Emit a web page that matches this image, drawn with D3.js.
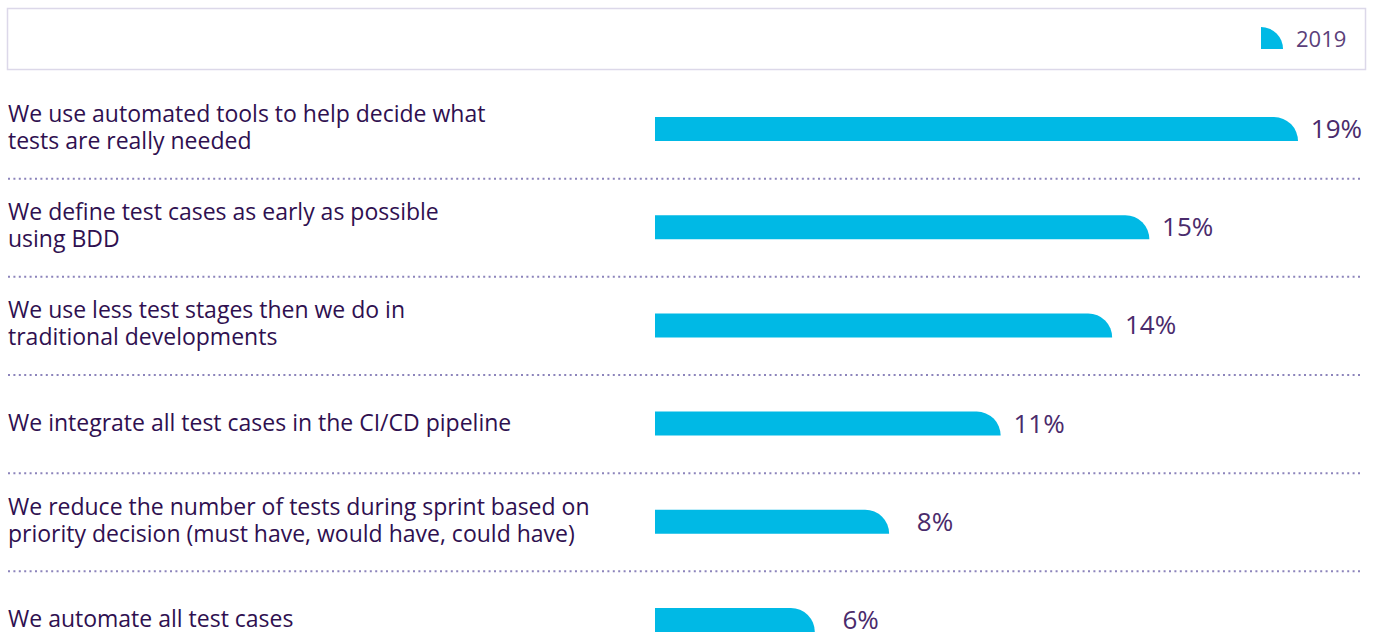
<!DOCTYPE html>
<html>
<head>
<meta charset="utf-8">
<script src="https://cdn.jsdelivr.net/npm/d3@7"></script>
<style>
  html, body { margin: 0; padding: 0; background: #ffffff; }
  svg { display: block; }
</style>
</head>
<body>
<svg id="chart" width="1375" height="635"></svg>
<script>
const categories = [
  "We use automated tools to help decide what|tests are really needed",
  "We define test cases as early as possible|using BDD",
  "We use less test stages then we do in|traditional developments",
  "We integrate all test cases in the CI/CD pipeline",
  "We reduce the number of tests during sprint based on|priority decision (must have, would have, could have)",
  "We automate all test cases"
];
const values2019 = [19, 15, 14, 11, 8, 6];
const seriesNames = ["2019"];

const W = 1375, H = 635;
const svg = d3.select("#chart");
const FONT = "'Open Sans', 'Noto Sans', sans-serif";
const barColor = "#00b9e5";
const labelColor = "#2f1050";
const valueColor = "#4a2b6c";

// legend box
svg.append("rect")
  .attr("x", 7.5).attr("y", 8.5).attr("width", 1358).attr("height", 61)
  .attr("fill", "#fff").attr("stroke", "#dcd8e9").attr("stroke-width", 1.5);

function roundEnd(x0, x1, y0, h, r) {
  const rr = Math.min(r, x1 - x0);
  return `M${x0},${y0}H${x1 - rr}A${rr},${h} 0 0 1 ${x1},${y0 + h}H${x0}Z`;
}

const lg = svg.append("g").attr("class", "legend");
lg.append("path").attr("d", roundEnd(1261, 1283, 27, 22, 22)).attr("fill", barColor);
lg.append("text").attr("x", 1296).attr("y", 47)
  .attr("font-family", FONT).attr("font-size", 22).attr("fill", "#5b3f7a")
  .text(seriesNames[0]);

const y = d3.scaleBand().domain(categories).range([80, 669]).paddingInner(0).paddingOuter(0);
const x = d3.scaleLinear().domain([1.7, 19]).range([655, 1298]);
const barH = 24;

// dotted separators
const seps = categories.slice(0, -1);
svg.append("g").selectAll("line").data(seps).join("line")
  .attr("x1", 8).attr("x2", 1363)
  .attr("y1", d => y(d) + y.bandwidth() + 0.5)
  .attr("y2", d => y(d) + y.bandwidth() + 0.5)
  .attr("stroke", "#8c84bb").attr("stroke-width", 2)
  .attr("stroke-dasharray", "2,3.4");

const rows = svg.append("g").selectAll("g").data(categories).join("g");

rows.append("path")
  .attr("d", (d, i) => {
    const cy = y(d) + y.bandwidth() / 2;
    return roundEnd(x.range()[0], x(values2019[i]), cy - barH / 2, barH, barH);
  })
  .attr("fill", barColor);

rows.append("text")
  .attr("text-anchor", "end")
  .attr("x", (d, i) => x(values2019[i]) + 64)
  .attr("y", d => y(d) + y.bandwidth() / 2 + 9)
  .attr("font-family", FONT).attr("font-size", 26).attr("fill", valueColor)
  .text((d, i) => values2019[i] + "%");

rows.each(function(d) {
  const lines = d.split("|");
  const cy = y(d) + y.bandwidth() / 2;
  const t = d3.select(this).append("text")
    .attr("font-family", FONT).attr("font-size", 23).attr("fill", labelColor);
  if (lines.length === 1) {
    t.append("tspan").attr("x", 8).attr("y", cy + 7).text(lines[0]);
  } else {
    lines.forEach((l, k) => {
      t.append("tspan").attr("x", 8).attr("y", cy - 7 + k * 27).text(l);
    });
  }
});
</script>
</body>
</html>
